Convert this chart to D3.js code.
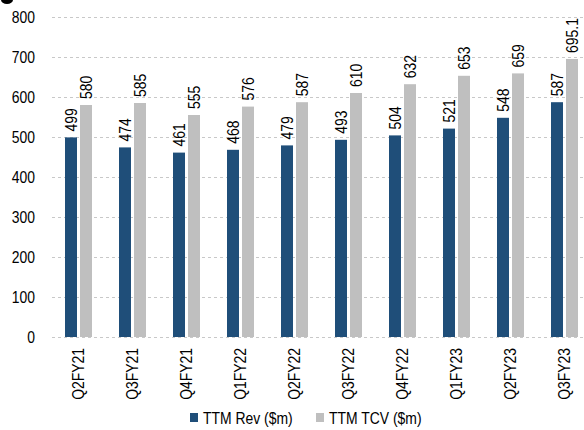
<!DOCTYPE html>
<html>
<head>
<meta charset="utf-8">
<script src="https://cdn.jsdelivr.net/npm/d3@7"></script>
<style>
  html, body { margin: 0; padding: 0; background: #fff; }
  svg { display: block; font-family: "Liberation Sans", Arial, sans-serif; }
</style>
</head>
<body>
<svg id="chart" width="584" height="430"></svg>
<script>
// Quarterly trailing-twelve-month figures
const quarters = ["Q2FY21", "Q3FY21", "Q4FY21", "Q1FY22", "Q2FY22", "Q3FY22", "Q4FY22", "Q1FY23", "Q2FY23", "Q3FY23"];
const ttmRev = [499, 474, 461, 468, 479, 493, 504, 521, 548, 587];
const ttmTcv = [580, 585, 555, 576, 587, 610, 632, 653, 659, 695.1];
const revLabels = ["499", "474", "461", "468", "479", "493", "504", "521", "548", "587"];
const tcvLabels = ["580", "585", "555", "576", "587", "610", "632", "653", "659", "695.1"];
const yTicks = [0, 100, 200, 300, 400, 500, 600, 700, 800];
const seriesNames = ["TTM Rev ($m)", "TTM TCV ($m)"];
const colors = ["#1F4E79", "#BFBFBF"];

// Narrow-face look: a regular sans, condensed along the reading direction
const FS = 17;
const NARROW = "scale(0.82,1)";

const svg = d3.select("#chart");

const x = d3.scaleBand().domain(quarters).range([51.5, 591.5]);
const y = d3.scaleLinear().domain([0, 800]).range([337, 17]);

// Title bullet remnant at top-left
svg.append("ellipse").attr("cx", 7).attr("cy", 0).attr("rx", 6).attr("ry", 4).attr("fill", "#000");

// Horizontal dashed gridlines
svg.append("g").selectAll("line").data(yTicks).join("line")
  .attr("x1", 52).attr("x2", 584)
  .attr("y1", d => Math.round(y(d)) + 0.5).attr("y2", d => Math.round(y(d)) + 0.5)
  .attr("stroke", "#c8c8c8").attr("stroke-width", 1).attr("stroke-dasharray", "3,3");

// Y axis tick labels
const yAxis = d3.axisLeft(y).tickValues(yTicks).tickSize(0).tickPadding(0);
const yg = svg.append("g").attr("transform", "translate(35,0)").call(yAxis);
yg.select(".domain").remove();
yg.selectAll("text")
  .attr("x", 0)
  .attr("transform", NARROW)
  .attr("font-size", FS).attr("fill", "#000")
  .attr("font-family", "Liberation Sans, Arial, sans-serif");

const barW = 12;
const cx = d => x(d) + x.bandwidth() / 2;

// Revenue bars
svg.append("g").selectAll("rect").data(quarters).join("rect")
  .attr("x", (d) => cx(d) - 13.5)
  .attr("y", (d, i) => y(ttmRev[i]))
  .attr("width", barW)
  .attr("height", (d, i) => y(0) - y(ttmRev[i]))
  .attr("fill", colors[0]);

// TCV bars
svg.append("g").selectAll("rect").data(quarters).join("rect")
  .attr("x", (d) => cx(d) + 1.5)
  .attr("y", (d, i) => y(ttmTcv[i]))
  .attr("width", barW)
  .attr("height", (d, i) => y(0) - y(ttmTcv[i]))
  .attr("fill", colors[1]);

// Value labels, rotated, above each bar
function valueLabels(values, labels, offset) {
  svg.append("g").selectAll("text").data(quarters).join("text")
    .attr("transform", (d, i) => `translate(${cx(d) + offset},${y(values[i]) - 6}) rotate(-90) ${NARROW}`)
    .attr("dy", "0.35em")
    .attr("text-anchor", "start")
    .attr("font-size", FS)
    .attr("fill", "#000")
    .text((d, i) => labels[i]);
}
valueLabels(ttmRev, revLabels, -7.5);
valueLabels(ttmTcv, tcvLabels, 7.5);

// Category labels, rotated
svg.append("g").selectAll("text").data(quarters).join("text")
  .attr("transform", d => `translate(${cx(d)},348) rotate(-90) ${NARROW}`)
  .attr("dy", "0.35em")
  .attr("text-anchor", "end")
  .attr("font-size", FS)
  .attr("fill", "#000")
  .text(d => d);

// Legend
const legendX = [190, 316];
const lg = svg.append("g");
seriesNames.forEach((name, i) => {
  lg.append("rect").attr("x", legendX[i]).attr("y", 413).attr("width", 8).attr("height", 9).attr("fill", colors[i]);
  lg.append("text").attr("transform", `translate(${legendX[i] + 13},424) ${NARROW}`)
    .attr("font-size", FS).attr("fill", "#000").text(name);
});
</script>
</body>
</html>
